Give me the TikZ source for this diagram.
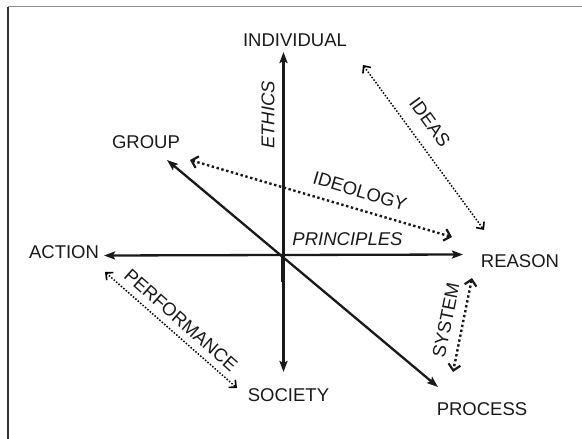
\documentclass[tikz,border=0pt]{standalone}
\usepackage{fontspec}
\setmainfont{Liberation Sans}
\usetikzlibrary{arrows.meta}
\begin{document}
\begin{tikzpicture}[x=1pt,y=-1pt,
  lbl/.style={font=\fontsize{18.5}{20}\selectfont, text=black!90, inner sep=0pt},
  elbl/.style={font=\fontsize{18.5}{20}\selectfont, text=black!90, inner sep=0pt},
  mainarrow/.style={line width=2.3pt, draw=black!90, {Stealth[length=11pt,width=8pt,inset=2pt]}-{Stealth[length=11pt,width=8pt,inset=2pt]}},
  thickdot/.style={line width=2.4pt, draw=black!90, dash pattern=on 2.4pt off 2.6pt, {Straight Barb[length=6pt,width=12pt,line width=2.2pt]}-{Straight Barb[length=6pt,width=12pt,line width=2.2pt]}},
  thindot/.style={line width=1.5pt, draw=black, dash pattern=on 1.5pt off 1.7pt, {Straight Barb[length=5.5pt,width=10pt,line width=1.6pt]}-{Straight Barb[length=5.5pt,width=10pt,line width=1.6pt]}}
]
\useasboundingbox (0,0) rectangle (582,439);
\draw[line width=1.5pt, black!45] (8,6.5) -- (582,6.5);
\draw[line width=1.5pt, black!80] (8,6.5) -- (8,439);

% nodes
\node[lbl] (IND) at (295,40) {INDIVIDUAL};
\node[lbl] (SOC) at (288.5,395) {SOCIETY};
\node[lbl] (ACT) at (64,252.5) {ACTION};
\node[lbl] (REA) at (520,261.5) {REASON};
\node[lbl] (GRP) at (146,142.5) {GROUP};
\node[lbl] (PRO) at (482,409) {PROCESS};

% tips
\coordinate (O) at (283,255);
\coordinate (tN) at (283.5,52);
\coordinate (tS) at (283.5,372);
\coordinate (tW) at (104,255.5);
\coordinate (tE) at (463,254.5);
\coordinate (tNW) at (167,160);
\coordinate (tSE) at (438,387);

\draw[mainarrow] (tS) -- (tN);
\draw[mainarrow] (tW) -- (tE);
\draw[mainarrow] (tNW) -- (tSE);
\draw[line width=3.2pt, black!90] (O) -- (283,282);

% dotted connectors
\coordinate (ideoA) at (190,160);
\coordinate (ideoB) at (452,237);
\coordinate (ideasA) at (363,65);
\coordinate (ideasB) at (484,230);
\coordinate (sysA) at (472,278);
\coordinate (sysB) at (453,372);
\coordinate (perfA) at (105,272);
\coordinate (perfB) at (237,388);

\draw[thickdot] (ideoA) -- (ideoB);
\draw[thickdot] (sysA) -- (sysB);
\draw[thindot] (ideasA) -- (ideasB);
\draw[thindot] (perfA) -- (perfB);

% edge labels
\node[elbl, rotate=90] (ETH) at (268,115) {\itshape ETHICS};
\node[elbl] (PRI) at (347.5,239.5) {\itshape PRINCIPLES};
\node[elbl, rotate=-16.5] (IDEO) at (360,191) {IDEOLOGY};
\node[elbl, rotate=-53.7] (IDEA) at (430,122) {IDEAS};
\node[elbl, rotate=78.6] (SYS) at (446,320) {SYSTEM};
\node[elbl, rotate=-41.5] (PERF) at (181,320) {PERFORMANCE};
\end{tikzpicture}
\end{document}
